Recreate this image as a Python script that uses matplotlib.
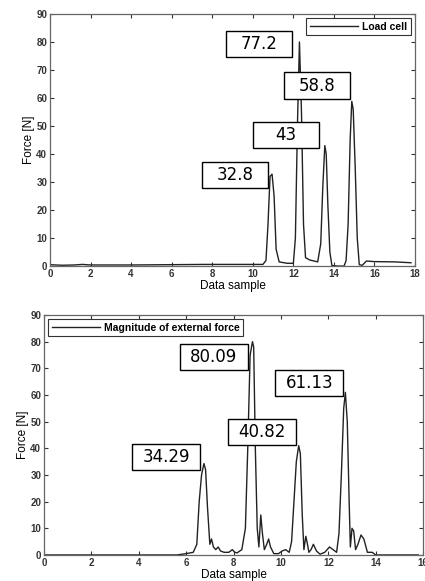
import matplotlib
matplotlib.use("Agg")
import matplotlib.pyplot as plt
from matplotlib.patches import Rectangle

# load cell signal (top panel)
top_x = [0.0, 0.6, 1.2, 1.6, 2.0, 4.0, 7.6, 10.5, 10.65, 10.75, 10.85, 10.95, 11.05, 11.15,
         11.3, 11.7, 12.0, 12.1, 12.2, 12.3, 12.4, 12.5, 12.6, 12.8, 13.2, 13.35, 13.45, 13.55,
         13.62, 13.7, 13.8, 13.9, 14.2, 14.5, 14.6, 14.7, 14.8, 14.88, 14.95, 15.05, 15.15,
         15.25, 15.4, 15.6, 16.0, 17.0, 17.8]
top_y = [0.5, 0.3, 0.4, 0.6, 0.4, 0.4, 0.6, 0.6, 2, 15, 32, 32.8, 25, 6,
         1.5, 1.0, 1.0, 10, 50, 80, 55, 15, 3, 2.2, 1.5, 8, 28, 43,
         40, 22, 5, 0.2, 0, 0, 2, 15, 45, 58.8, 56, 35, 10,
         0.5, 0.3, 1.8, 1.6, 1.5, 1.2]
top_labels = ["77.2", "58.8", "43", "32.8"]

# estimated external force magnitude (bottom panel)
bot_x = [0, 5.6, 6.0, 6.3, 6.45, 6.55, 6.65, 6.75, 6.82, 6.9, 7.0, 7.07, 7.15, 7.25, 7.35,
         7.45, 7.6, 7.8, 7.95, 8.05, 8.15, 8.35, 8.5, 8.6, 8.7, 8.8, 8.85, 8.92, 9.0, 9.07,
         9.15, 9.22, 9.3, 9.4, 9.48, 9.56, 9.7, 9.9, 10.05, 10.2, 10.35, 10.45, 10.55, 10.65,
         10.75, 10.82, 10.9, 10.97, 11.05, 11.1, 11.18, 11.27, 11.37, 11.5, 11.65, 11.85,
         12.05, 12.2, 12.35, 12.45, 12.55, 12.65, 12.72, 12.8, 12.88, 12.93, 13.0, 13.07,
         13.15, 13.25, 13.38, 13.5, 13.65, 13.85, 14.0, 15.8]
bot_y = [0, 0, 0.5, 1, 4, 20, 30, 34.3, 32, 18, 4, 6, 3, 2, 3,
         1.5, 1, 1, 2, 1, 0.8, 2, 10, 40, 75, 80, 78, 40, 10, 3,
         15, 8, 2, 4, 6, 3, 0.5, 0.5, 1.5, 2, 1, 5, 20, 35,
         41, 38, 15, 2, 7, 5, 1, 2, 4, 1.5, 0.3, 1,
         3, 2, 1, 8, 30, 55, 61, 50, 20, 3, 10, 9,
         2, 4, 7.5, 6, 1, 1, 0, 0]
bot_labels = ["80.09", "61.13", "40.82", "34.29"]

# label box lower-left corners (layout), box sizes in data units
top_boxes = [(8.7, 74.5), (11.55, 59.8), (10.0, 42.0), (7.5, 27.9)]
bot_boxes = [(5.73, 69.4), (9.77, 59.6), (7.77, 41.25), (3.72, 31.9)]

label_font = ["Liberation Sans Narrow", "Liberation Sans", "DejaVu Sans"]

fig = plt.figure(figsize=(4.25, 5.81), dpi=100)
ax1 = fig.add_axes([0.1176, 0.542, 0.859, 0.434])
ax2 = fig.add_axes([0.1035, 0.0448, 0.892, 0.413])


def style(ax, xmax, xstep):
    ax.set_xlim(0, xmax)
    ax.set_ylim(0, 90)
    ax.set_xticks(range(0, xmax + 1, xstep))
    ax.set_yticks(range(0, 91, 10))
    ax.tick_params(direction="in", length=3, width=0.8, top=True, right=True,
                   labelsize=7, pad=2, colors="#333333")
    for lab in ax.get_xticklabels() + ax.get_yticklabels():
        lab.set_fontweight("bold")
        lab.set_family(["Liberation Sans", "DejaVu Sans"])
    for sp in ax.spines.values():
        sp.set_color("#666666")
        sp.set_linewidth(0.9)
    ax.set_xlabel("Data sample", fontsize=8.5, family=label_font, labelpad=1)
    ax.set_ylabel("Force [N]", fontsize=8.5, family=label_font, labelpad=1)


def boxes(ax, corners, labels, w, h):
    for (x0, y0), txt in zip(corners, labels):
        ax.add_patch(Rectangle((x0, y0), w, h, facecolor="white", edgecolor="black",
                               linewidth=1.0, zorder=3))
        ax.text(x0 + w / 2, y0 + h / 2, txt, ha="center", va="center", fontsize=12,
                family="DejaVu Sans", zorder=4)


def legend(ax, loc):
    leg = ax.legend(loc=loc, handlelength=4.6, borderpad=0.35,
                    handletextpad=0.4, borderaxespad=0.4, fancybox=False, framealpha=1,
                    prop={"weight": "bold", "size": 7.5, "family": "Liberation Sans"})
    leg.get_frame().set_edgecolor("#333333")
    leg.get_frame().set_linewidth(0.8)


ax1.plot(top_x, top_y, color="#222222", linewidth=1.0, label="Load cell")
style(ax1, 18, 2)
boxes(ax1, top_boxes, top_labels, 3.25, 9.3)
legend(ax1, "upper right")

ax2.plot(bot_x, bot_y, color="#222222", linewidth=1.0, label="Magnitude of external force")
style(ax2, 16, 2)
boxes(ax2, bot_boxes, bot_labels, 2.87, 9.75)
legend(ax2, "upper left")

fig.savefig("out.png", dpi=100)
